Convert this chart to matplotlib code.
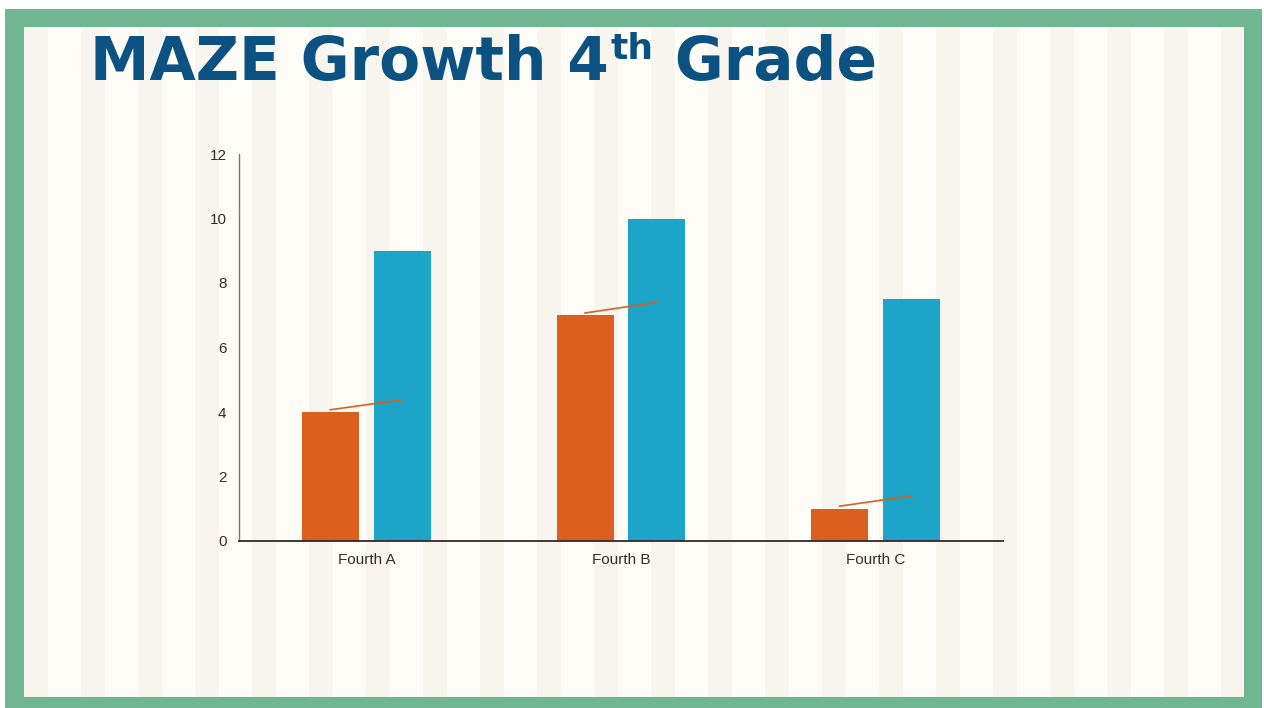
import matplotlib
matplotlib.use("Agg")
import matplotlib.pyplot as plt
from matplotlib.patches import Rectangle
import numpy as np

# data
classes = ["Fourth A", "Fourth B", "Fourth C"]
fall_scores = [4, 7, 1]
spring_scores = [9, 10, 7.5]
trend_start = [4.07, 7.07, 1.08]
trend_end = [4.38, 7.4, 1.4]
y_ticks = [0, 2, 4, 6, 8, 10, 12]

W, H = 1264, 708
fig = plt.figure(figsize=(W / 100, H / 100), dpi=100)
fig.patch.set_facecolor("white")

# slide background: green frame with cream vertical stripes
bg = fig.add_axes([0, 0, 1, 1])
bg.set_xlim(0, W)
bg.set_ylim(H, 0)
bg.axis("off")
bg.add_patch(Rectangle((5, 9), 1257, 699, color="#70B690", lw=0))
bg.add_patch(Rectangle((24, 27), 1220, 670, color="#FDFCF7", lw=0))
for x0 in np.arange(24, 1244, 57):
    bg.add_patch(Rectangle((x0, 27), min(24, 1244 - x0), 670, color="#F7F5EE", lw=0))

# title with superscript
title_kw = dict(color="#0B5282", fontfamily="DejaVu Sans", fontweight="bold", va="baseline")
r = fig.canvas.get_renderer()
t1 = bg.text(90, 80, "MAZE Growth 4", fontsize=43, **title_kw)
bb = t1.get_window_extent(renderer=r)
t2 = bg.text(bb.x1 + 2, 59, "th", fontsize=26, **title_kw)
bb2 = t2.get_window_extent(renderer=r)
bg.text(bb2.x1, 80, " Grade", fontsize=43, **title_kw)

# chart
ax = fig.add_axes([239 / W, (H - 541) / H, 764 / W, 387 / H])
ax.patch.set_alpha(0)
x = np.arange(len(classes))
bw = 0.2235
off = 0.141
ax.bar(x - off, fall_scores, bw, color="#DB5F1E", zorder=2)
ax.bar(x + off, spring_scores, bw, color="#1CA5C8", zorder=2)
for i in range(len(classes)):
    ax.plot([x[i] - off, x[i] + off], [trend_start[i], trend_end[i]],
            color="#DB5F1E", lw=1.2, zorder=3)

ax.set_xlim(-0.5, len(classes) - 0.5)
ax.set_ylim(0, 12)
ax.set_yticks(y_ticks)
ax.set_xticks(x)
ax.set_xticklabels(classes)
ax.tick_params(length=0, labelsize=11, labelcolor="#3B2A2A")
ax.tick_params(axis="y", pad=9)
ax.tick_params(axis="x", pad=9)
for lbl in ax.get_xticklabels() + ax.get_yticklabels():
    lbl.set_fontfamily("Liberation Sans")
for s in ["top", "right"]:
    ax.spines[s].set_visible(False)
ax.spines["left"].set_color("#8C6E6E")
ax.spines["left"].set_linewidth(1.0)
ax.spines["bottom"].set_color("#3A2626")
ax.spines["bottom"].set_linewidth(1.3)

fig.savefig("out.png", dpi=100)
